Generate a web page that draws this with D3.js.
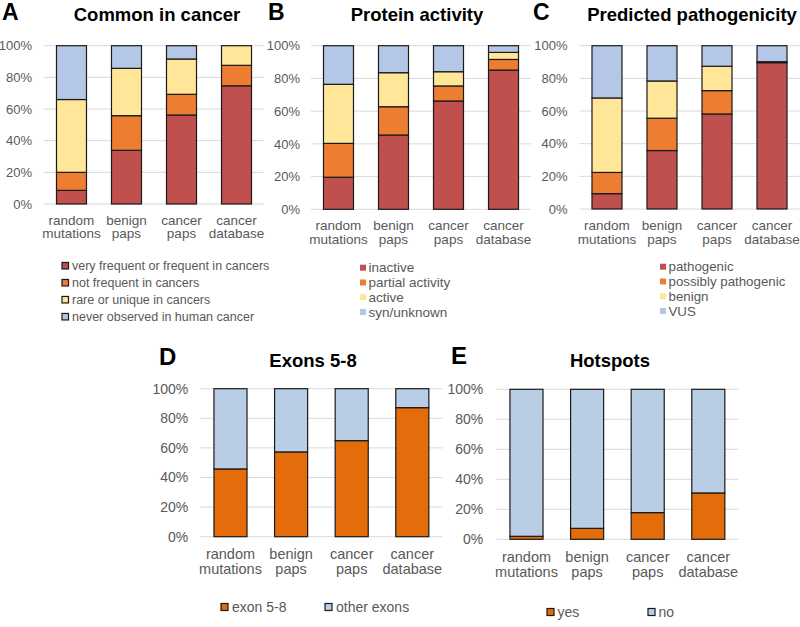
<!DOCTYPE html>
<html>
<head>
<meta charset="utf-8">
<script src="https://cdn.jsdelivr.net/npm/d3@7"></script>
<style>
  html, body { margin: 0; padding: 0; background: #fff; }
  svg { display: block; font-family: "Liberation Sans", Arial, sans-serif; }
</style>
</head>
<body>
<svg id="chart" width="800" height="627"></svg>
<script>
// ---------- DATA ----------
const categories = ["random mutations", "benign paps", "cancer paps", "cancer database"];
const tickValues = [0, 20, 40, 60, 80, 100];

// Panel A: Common in cancer (segment sizes, % of each bar)
const aSeries = ["very frequent or frequent in cancers", "not frequent in cancers", "rare or unique in cancers", "never observed in human cancer"];
const aVeryFrequent = [8.6, 33.9, 56.2, 74.7];
const aNotFrequent  = [11.4, 21.9, 13.1, 12.9];
const aRare         = [46.0, 29.9, 22.3, 12.4];
const aNever        = [34.0, 14.3, 8.4, 0.0];

// Panel B: Protein activity
const bSeries = ["inactive", "partial activity", "active", "syn/unknown"];
const bInactive = [19.6, 45.4, 66.2, 85.1];
const bPartial  = [20.7, 17.3, 9.2, 6.5];
const bActive   = [36.1, 20.8, 8.7, 4.3];
const bSyn      = [23.6, 16.5, 15.9, 4.1];

// Panel C: Predicted pathogenicity
const cSeries = ["pathogenic", "possibly pathogenic", "benign", "VUS"];
const cPathogenic = [9.4, 35.8, 58.2, 89.6];
const cPossibly   = [13.0, 19.8, 14.3, 0.6];
const cBenign     = [45.6, 22.8, 14.9, 0.0];
const cVUS        = [32.0, 21.6, 12.6, 9.8];

// Panel D: Exons 5-8
const dSeries = ["exon 5-8", "other exons"];
const dExon58 = [45.8, 57.3, 64.9, 87.2];
const dOther  = [54.2, 42.7, 35.1, 12.8];

// Panel E: Hotspots
const eSeries = ["yes", "no"];
const eYes = [2.0, 7.3, 17.8, 30.9];
const eNo  = [98.0, 92.7, 82.2, 69.1];

// ---------- STYLE ----------
const colors4 = ["#C0504D", "#ED7D31", "#FFE699", "#B4C7E7"];
const colors2 = ["#E46C0A", "#B9CDE5"];
const textGray = "#595959";

const svg = d3.select("#chart");

function drawPanel(cfg) {
  const g = svg.append("g");
  const x = d3.scaleBand().domain(categories).range(cfg.xRange).paddingInner(0.4545).paddingOuter(0.227);
  const y = d3.scaleLinear().domain([0, 100]).range(cfg.yRange);

  // gridlines
  g.selectAll("line.grid").data(tickValues).join("line")
    .attr("x1", cfg.xRange[0]).attr("x2", cfg.xRange[1])
    .attr("y1", d => y(d)).attr("y2", d => y(d))
    .attr("stroke", "#D9D9D9").attr("stroke-width", 1);

  // y axis labels
  const yAxis = d3.axisLeft(y).tickValues(tickValues).tickSize(0).tickPadding(cfg.tickPad)
    .tickFormat(d => d + "%");
  const ya = g.append("g").attr("transform", `translate(${cfg.xRange[0]},0)`).call(yAxis);
  ya.select(".domain").remove();
  ya.selectAll("text").attr("fill", textGray).style("font-size", cfg.tickFont + "px")
    .style("font-family", "Liberation Sans, Arial, sans-serif");

  // stacked bars
  const rows = categories.map((c, i) => {
    const o = { cat: c };
    cfg.keys.forEach((k, j) => { o[k] = cfg.values[j][i]; });
    return o;
  });
  const stacked = d3.stack().keys(cfg.keys)(rows);
  stacked.forEach((layer, j) => {
    g.append("g").selectAll("rect").data(layer.filter(d => d[1] - d[0] > 0)).join("rect")
      .attr("x", d => x(d.data.cat))
      .attr("width", x.bandwidth())
      .attr("y", d => y(d[1]))
      .attr("height", d => y(d[0]) - y(d[1]))
      .attr("fill", cfg.colors[j])
      .attr("stroke", "#1a1a1a")
      .attr("stroke-width", 1.2);
  });

  // x labels (two lines)
  const xl = g.append("g");
  categories.forEach(c => {
    const parts = c.split(" ");
    const t = xl.append("text")
      .attr("x", x(c) + x.bandwidth() / 2)
      .attr("y", cfg.xLabelY)
      .attr("text-anchor", "middle")
      .attr("fill", textGray)
      .style("font-size", cfg.xFont + "px");
    parts.forEach((p, i) => {
      t.append("tspan").attr("x", x(c) + x.bandwidth() / 2)
        .attr("dy", i === 0 ? 0 : cfg.xLineH).text(p);
    });
  });

  // title & letter
  g.append("text").attr("x", cfg.titleX).attr("y", cfg.titleY).attr("text-anchor", "middle")
    .style("font-size", cfg.titleFont + "px").style("font-weight", "bold").attr("fill", "#000")
    .text(cfg.title);
  g.append("text").attr("x", cfg.letterX).attr("y", cfg.letterY)
    .style("font-size", cfg.letterFont + "px").style("font-weight", "bold").attr("fill", "#000")
    .text(cfg.letter);

  // legend
  const lg = g.append("g");
  cfg.legendLabels.forEach((lab, i) => {
    const lx = cfg.legendPos[i][0], ly = cfg.legendPos[i][1];
    lg.append("rect")
      .attr("x", lx).attr("y", ly - cfg.sq / 2).attr("width", cfg.sq).attr("height", cfg.sq)
      .attr("fill", cfg.colors[i])
      .attr("stroke", cfg.legendBorder ? "#1a1a1a" : "none")
      .attr("stroke-width", cfg.legendBorder ? 1.2 : 0);
    lg.append("text").attr("x", lx + cfg.sq + cfg.gap).attr("y", ly).attr("dy", "0.35em")
      .attr("fill", textGray).style("font-size", cfg.legendFont + "px").text(lab);
  });
}

// Panel A
drawPanel({
  xRange: [44, 264], yRange: [204, 45.7], tickPad: 12, tickFont: 13,
  keys: aSeries, values: [aVeryFrequent, aNotFrequent, aRare, aNever], colors: colors4,
  xLabelY: 224.5, xLineH: 13.5, xFont: 13.5,
  title: "Common in cancer", titleX: 157, titleY: 20.5, titleFont: 18.5,
  letter: "A", letterX: 2, letterY: 19.5, letterFont: 23,
  legendLabels: aSeries,
  legendPos: [[62, 265.7], [62, 282.7], [62, 299.7], [62, 316.7]],
  sq: 6.5, gap: 3.5, legendBorder: true, legendFont: 12.5
});

// Panel B
drawPanel({
  xRange: [311, 531], yRange: [209.3, 45.7], tickPad: 11, tickFont: 13,
  keys: bSeries, values: [bInactive, bPartial, bActive, bSyn], colors: colors4,
  xLabelY: 229.5, xLineH: 14.3, xFont: 13.5,
  title: "Protein activity", titleX: 417, titleY: 20.5, titleFont: 18.5,
  letter: "B", letterX: 268, letterY: 19.5, letterFont: 23,
  legendLabels: bSeries,
  legendPos: [[360, 267.7], [360, 282.5], [360, 297.2], [360, 312]],
  sq: 6, gap: 2.5, legendBorder: false, legendFont: 13.5
});

// Panel C
drawPanel({
  xRange: [579.5, 799.5], yRange: [209, 45.7], tickPad: 12, tickFont: 13,
  keys: cSeries, values: [cPathogenic, cPossibly, cBenign, cVUS], colors: colors4,
  xLabelY: 229.5, xLineH: 14.3, xFont: 13.5,
  title: "Predicted pathogenicity", titleX: 692, titleY: 20.5, titleFont: 18.5,
  letter: "C", letterX: 533, letterY: 19.5, letterFont: 23,
  legendLabels: cSeries,
  legendPos: [[660, 266.7], [660, 281.5], [660, 296.3], [660, 311]],
  sq: 6, gap: 2.5, legendBorder: false, legendFont: 13.3
});

// Panel D
drawPanel({
  xRange: [200.2, 442.6], yRange: [536.7, 388.7], tickPad: 12, tickFont: 14,
  keys: dSeries, values: [dExon58, dOther], colors: colors2,
  xLabelY: 559, xLineH: 15, xFont: 14.5,
  title: "Exons 5-8", titleX: 313, titleY: 367, titleFont: 18.5,
  letter: "D", letterX: 159, letterY: 365, letterFont: 24,
  legendLabels: dSeries,
  legendPos: [[221, 607], [325, 607]],
  sq: 7, gap: 4, legendBorder: true, legendFont: 14
});

// Panel E
drawPanel({
  xRange: [496.2, 738.6], yRange: [539.3, 389.3], tickPad: 13, tickFont: 14,
  keys: eSeries, values: [eYes, eNo], colors: colors2,
  xLabelY: 562, xLineH: 15, xFont: 14.5,
  title: "Hotspots", titleX: 610, titleY: 367, titleFont: 18.5,
  letter: "E", letterX: 451, letterY: 364, letterFont: 24,
  legendLabels: eSeries,
  legendPos: [[547, 612], [648, 612]],
  sq: 7, gap: 3.5, legendBorder: true, legendFont: 14
});
</script>
</body>
</html>
